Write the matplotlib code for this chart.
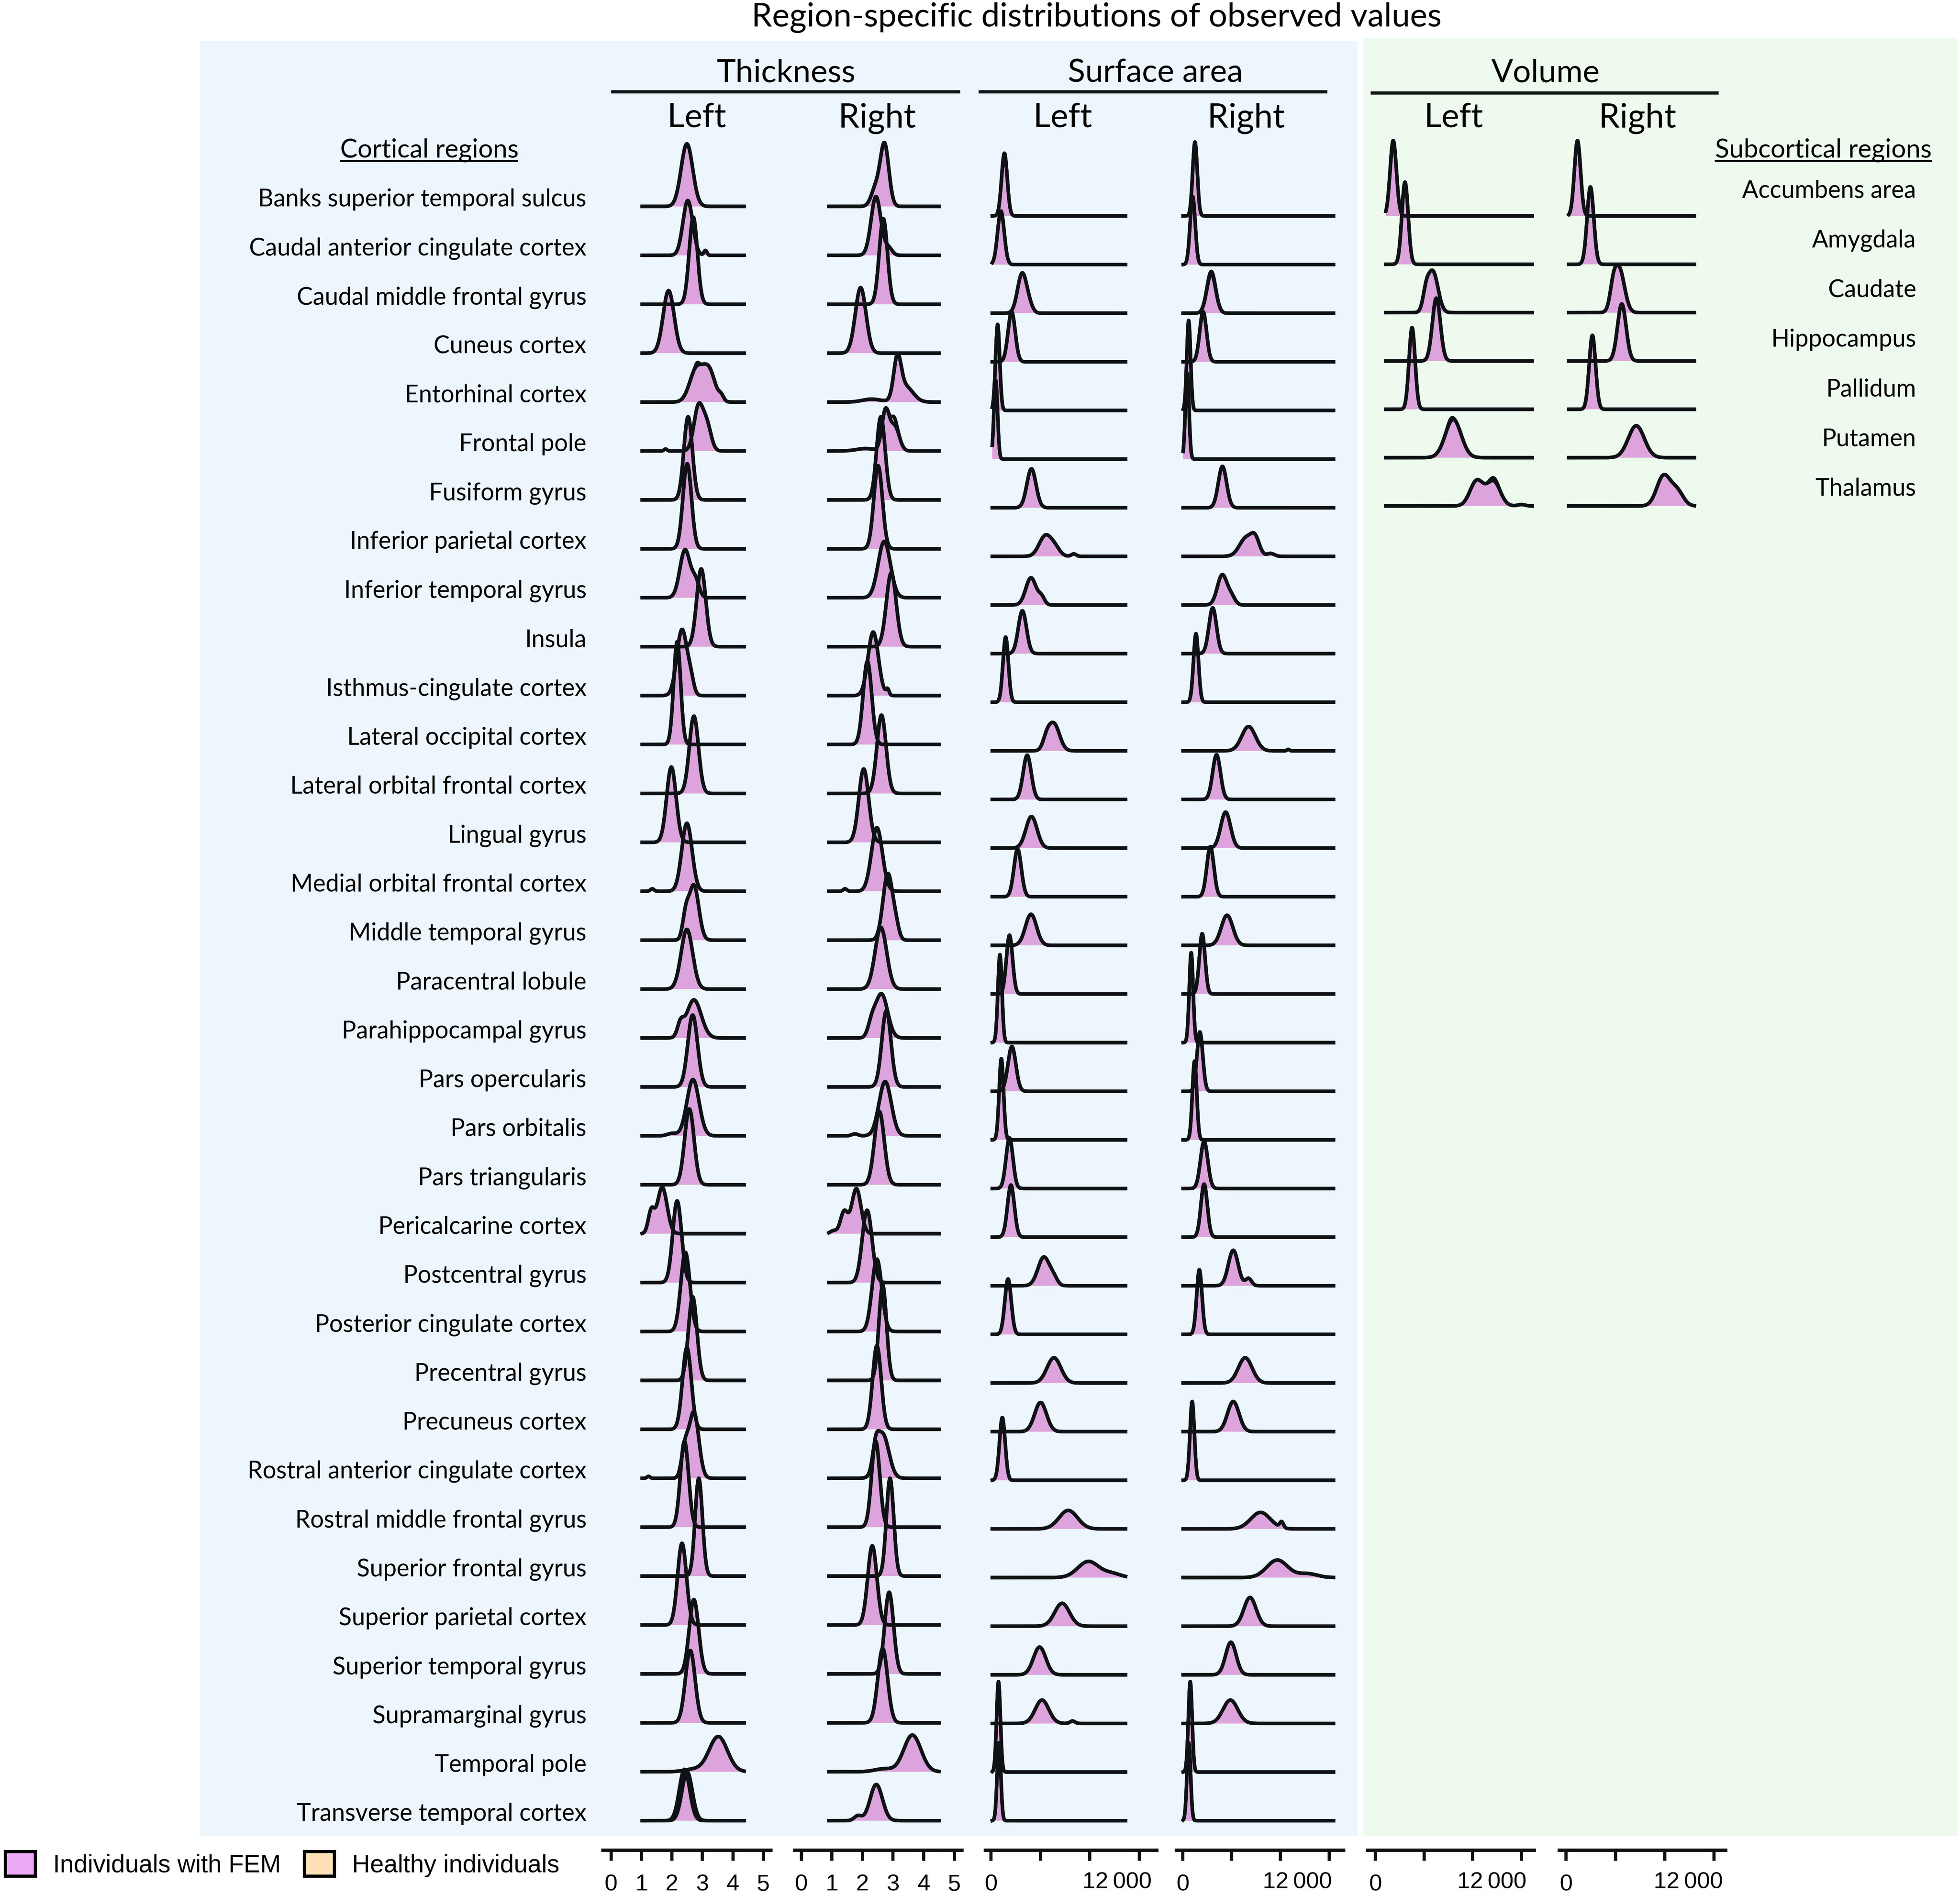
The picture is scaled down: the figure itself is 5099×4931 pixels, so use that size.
import numpy as np
import matplotlib
matplotlib.use("Agg")
import matplotlib.pyplot as plt
from matplotlib.patches import Rectangle, Patch
from matplotlib.lines import Line2D
from matplotlib.transforms import ScaledTranslation

# ---------------------------------------------------------------- data
cortical_regions = [
    "Banks superior temporal sulcus", "Caudal anterior cingulate cortex",
    "Caudal middle frontal gyrus", "Cuneus cortex", "Entorhinal cortex",
    "Frontal pole", "Fusiform gyrus", "Inferior parietal cortex",
    "Inferior temporal gyrus", "Insula", "Isthmus-cingulate cortex",
    "Lateral occipital cortex", "Lateral orbital frontal cortex",
    "Lingual gyrus", "Medial orbital frontal cortex", "Middle temporal gyrus",
    "Paracentral lobule", "Parahippocampal gyrus", "Pars opercularis",
    "Pars orbitalis", "Pars triangularis", "Pericalcarine cortex",
    "Postcentral gyrus", "Posterior cingulate cortex", "Precentral gyrus",
    "Precuneus cortex", "Rostral anterior cingulate cortex",
    "Rostral middle frontal gyrus", "Superior frontal gyrus",
    "Superior parietal cortex", "Superior temporal gyrus",
    "Supramarginal gyrus", "Temporal pole", "Transverse temporal cortex"]
subcortical_regions = ["Accumbens area", "Amygdala", "Caudate", "Hippocampus",
                       "Pallidum", "Putamen", "Thalamus"]

# main density component per region: peak location, peak height (in rows), spread
thick_left_mu = [2.49, 2.52, 2.70, 1.89, 2.80, 2.87, 2.53, 2.50, 2.43, 2.96, 2.33, 2.17,
                 2.72, 1.98, 2.49, 2.72, 2.49, 2.72, 2.68, 2.69, 2.57, 1.68, 2.17, 2.44,
                 2.68, 2.49, 2.72, 2.41, 2.88, 2.33, 2.72, 2.60, 3.52, 2.41]
thick_left_h = [1.28, 1.12, 1.78, 1.28, 0.66, 0.90, 1.70, 1.74, 0.98, 1.59, 1.35, 2.10,
                1.58, 1.54, 1.39, 1.12, 1.22, 0.78, 1.47, 1.15, 1.55, 0.95, 1.67, 1.62,
                1.71, 1.67, 1.35, 1.76, 2.00, 1.67, 1.52, 1.48, 0.72, 1.05]
thick_left_sd = [0.19, 0.16, 0.135, 0.18, 0.22, 0.15, 0.14, 0.14, 0.17, 0.15, 0.17, 0.115,
                 0.15, 0.155, 0.17, 0.16, 0.19, 0.24, 0.16, 0.20, 0.155, 0.16, 0.145, 0.15,
                 0.14, 0.145, 0.16, 0.135, 0.12, 0.145, 0.155, 0.16, 0.30, 0.17]
thick_left_extra = [(1, 3.10, 0.10, 0.05), (4, 3.22, 0.62, 0.20), (4, 3.62, 0.10, 0.08),
                    (5, 3.15, 0.50, 0.14), (5, 1.79, 0.04, 0.05), (8, 2.78, 0.32, 0.12),
                    (10, 2.62, 0.25, 0.10), (14, 1.35, 0.05, 0.06), (15, 2.45, 0.45, 0.10),
                    (17, 2.28, 0.25, 0.10), (19, 2.00, 0.05, 0.15), (21, 1.32, 0.45, 0.10),
                    (26, 2.42, 0.55, 0.11), (26, 1.23, 0.04, 0.05), (32, 2.70, 0.05, 0.30)]

thick_right_mu = [2.72, 2.44, 2.68, 1.94, 3.14, 2.75, 2.60, 2.51, 2.71, 2.94, 2.35, 2.16,
                  2.62, 2.04, 2.47, 2.83, 2.60, 2.62, 2.78, 2.74, 2.55, 1.80, 2.15, 2.47,
                  2.66, 2.47, 2.66, 2.43, 2.90, 2.32, 2.87, 2.66, 3.63, 2.45]
thick_right_h = [1.27, 1.20, 1.75, 1.34, 0.80, 0.80, 1.70, 1.70, 1.15, 1.51, 1.30, 1.70,
                 1.60, 1.50, 1.30, 1.36, 1.26, 0.90, 1.56, 1.11, 1.50, 0.92, 1.48, 1.48,
                 1.95, 1.71, 0.90, 1.76, 2.00, 1.62, 1.67, 1.52, 0.75, 0.74]
thick_right_sd = [0.14, 0.16, 0.135, 0.175, 0.12, 0.12, 0.14, 0.14, 0.20, 0.16, 0.17, 0.14,
                  0.15, 0.16, 0.18, 0.16, 0.19, 0.20, 0.15, 0.20, 0.16, 0.15, 0.16, 0.16,
                  0.125, 0.14, 0.20, 0.135, 0.12, 0.15, 0.145, 0.16, 0.28, 0.20]
thick_right_extra = [(0, 2.42, 0.35, 0.14), (1, 2.85, 0.15, 0.12), (4, 3.40, 0.32, 0.25),
                     (4, 2.30, 0.06, 0.30), (5, 3.05, 0.50, 0.15), (5, 2.10, 0.05, 0.30),
                     (10, 2.82, 0.12, 0.05), (14, 1.43, 0.05, 0.06), (15, 3.10, 0.20, 0.10),
                     (17, 2.30, 0.25, 0.12), (19, 1.75, 0.04, 0.10), (21, 1.40, 0.45, 0.12),
                     (21, 1.05, 0.06, 0.10), (26, 2.43, 0.40, 0.10), (32, 2.70, 0.06, 0.30),
                     (33, 1.85, 0.10, 0.12)]

area_left_mu = [1084, 800, 2518, 1669, 536, 380, 3273, 4400, 3238, 2540, 1186, 5100, 2928,
                3276, 2154, 3238, 1495, 720, 1690, 836, 1495, 1611, 4284, 1379, 5097, 4013,
                914, 6258, 7885, 5756, 3935, 4129, 604, 643]
area_left_h = [1.29, 1.10, 0.81, 1.03, 1.77, 1.62, 0.80, 0.42, 0.56, 0.88, 1.34, 0.55, 0.91,
               0.65, 0.98, 0.64, 1.21, 1.81, 0.92, 1.67, 1.04, 1.07, 0.59, 1.14, 0.52, 0.60,
               1.29, 0.38, 0.33, 0.47, 0.57, 0.48, 1.86, 1.60]
area_left_sd = [230, 270, 370, 290, 170, 150, 370, 500, 420, 330, 220, 450, 330, 450, 300,
                450, 250, 165, 320, 180, 280, 280, 480, 260, 560, 480, 230, 750, 850, 600,
                500, 550, 155, 150]
area_left_extra = [(2, 3100, 0.12, 300), (7, 5200, 0.15, 400), (7, 6700, 0.05, 200),
                   (8, 4100, 0.15, 250), (11, 4500, 0.20, 300), (22, 5100, 0.12, 300),
                   (28, 9800, 0.08, 700), (31, 6600, 0.05, 200)]

area_right_mu = [1000, 810, 2335, 1667, 484, 360, 3250, 5200, 3236, 2453, 1082, 5390, 2766,
                 3510, 2257, 3628, 1591, 690, 1400, 965, 1748, 1748, 4136, 1357, 5116, 4136,
                 769, 6369, 7739, 5508, 3941, 3901, 612, 493]
area_right_h = [1.52, 1.40, 0.81, 1.03, 1.85, 1.77, 0.85, 0.38, 0.62, 0.94, 1.41, 0.50, 0.92,
                0.74, 1.03, 0.62, 1.24, 1.85, 1.22, 1.62, 0.97, 1.09, 0.73, 1.33, 0.52, 0.62,
                1.62, 0.34, 0.36, 0.59, 0.67, 0.48, 1.86, 1.60]
area_right_sd = [190, 210, 360, 280, 155, 150, 340, 550, 400, 310, 205, 560, 320, 400, 290,
                 470, 235, 160, 240, 180, 300, 265, 400, 220, 560, 470, 180, 800, 850, 500,
                 430, 600, 155, 150]
area_right_extra = [(7, 5950, 0.30, 350), (7, 7200, 0.06, 300), (8, 4000, 0.15, 300),
                    (11, 8640, 0.03, 100), (22, 5390, 0.15, 250), (27, 8100, 0.12, 150),
                    (28, 10200, 0.08, 800)]

vol_left_mu = [1469, 2435, 4723, 5013, 3015, 6400, 8332]
vol_left_h = [1.56, 1.70, 0.85, 1.30, 1.69, 0.79, 0.52]
vol_left_sd = [260, 260, 420, 330, 250, 650, 550]
vol_left_extra = [(2, 4150, 0.30, 250), (6, 9717, 0.50, 550), (6, 12000, 0.03, 300)]

vol_right_mu = [921, 1970, 4290, 4513, 2129, 5689, 7900]
vol_right_h = [1.56, 1.60, 0.92, 1.18, 1.53, 0.66, 0.62]
vol_right_sd = [250, 270, 430, 350, 260, 650, 550]
vol_right_extra = [(2, 3800, 0.30, 250), (6, 9000, 0.30, 500)]

# healthy individuals: same as FEM except where the curves visibly differ
healthy_main = {("thick_left", 33): (2.50, 1.00, 0.17), ("area_right", 2): (2335, 0.86, 360)}
healthy_extra = [("thick_right", 5, 3.02, 0.15, 0.08), ("thick_left", 4, 2.83, 0.06, 0.05),
                 ("vol_left", 6, 9717, 0.06, 250), ("vol_left", 5, 6200, 0.05, 200)]

# x range over which densities were evaluated in each column
ranges = {"thick_left": (1.02, 4.37), "thick_right": (0.90, 4.50),
          "area_left": (100, 10900), "area_right": (30, 12350),
          "vol_left": (855, 13000), "vol_right": (214, 10400)}

thick_ticks = [0, 1, 2, 3, 4, 5]
big_ticks = [0, 4000, 8000, 12000]

# ---------------------------------------------------------------- layout helpers
W, H, DPI = 5099, 4931, 300
DW, DH = 1564.0, 1512.0
PT = 72.0 * (W / DW) / DPI          # points per reference px

def fx(x): return x / DW
def fy(y): return 1.0 - y / DH

MAIN = ["Lato", "DejaVu Sans"]
ARIAL = ["Liberation Sans", "DejaVu Sans"]
FEM_FILL = "#dca3dc"
HC_FILL = "#f9d9a6"
LINE = "#0f1214"
LW = 2.2

fig = plt.figure(figsize=(W / DPI, H / DPI), dpi=DPI)
fig.patch.set_facecolor("white")

fig.add_artist(Rectangle((fx(159.6), fy(1464.7)), fx(1083) - fx(159.6), fy(32.9) - fy(1464.7),
                         transform=fig.transFigure, facecolor="#edf6fc", edgecolor="none", zorder=0))
fig.add_artist(Rectangle((fx(1088), fy(1464.7)), fx(1562) - fx(1088), fy(30.5) - fy(1464.7),
                         transform=fig.transFigure, facecolor="#eefaee", edgecolor="none", zorder=0))

columns = [
    # key, mu, h, sd, extra, ax-left px, ax-right px, zero px, px per unit, first baseline, spacing, ticks, label dx
    ("thick_left", thick_left_mu, thick_left_h, thick_left_sd, thick_left_extra,
     481, 615, 487.6, 24.3, 164.7, 39.03, thick_ticks, None),
    ("thick_right", thick_right_mu, thick_right_h, thick_right_sd, thick_right_extra,
     634, 767.5, 639.4, 24.42, 164.7, 39.03, thick_ticks, None),
    ("area_left", area_left_mu, area_left_h, area_left_sd, area_left_extra,
     786, 923, 790.8, 39.4 / 4000, 172.3, 38.8, big_ticks, 10),
    ("area_right", area_right_mu, area_right_h, area_right_sd, area_right_extra,
     938.6, 1072, 943.8, 38.97 / 4000, 172.3, 38.8, big_ticks, 2),
    ("vol_left", vol_left_mu, vol_left_h, vol_left_sd, vol_left_extra,
     1091, 1224, 1097.5, 38.83 / 4000, 172.3, 38.57, big_ticks, 4),
    ("vol_right", vol_right_mu, vol_right_h, vol_right_sd, vol_right_extra,
     1244, 1377, 1249.7, 39.37 / 4000, 172.3, 38.57, big_ticks, 7),
]

AX_BOTTOM, AX_TOP = 1476.0, 40.0

def density(x, comps):
    y = np.zeros_like(x)
    for m, hh, s in comps:
        y += hh * np.exp(-0.5 * ((x - m) / s) ** 2)
    return y

for key, mu, hh, sd, extra, x0, x1, zero, ppu, b0, sp, ticks, ldx in columns:
    ax = fig.add_axes([fx(x0), fy(AX_BOTTOM), fx(x1) - fx(x0), fy(AX_TOP) - fy(AX_BOTTOM)])
    ax.set_facecolor("none")
    ax.set_xlim((x0 - zero) / ppu, (x1 - zero) / ppu)
    ax.set_ylim(-(AX_BOTTOM - b0) / sp, (b0 - AX_TOP) / sp)
    for s in ("top", "left", "right"):
        ax.spines[s].set_visible(False)
    ax.spines["bottom"].set_linewidth(2.1)
    ax.spines["bottom"].set_color(LINE)
    ax.tick_params(axis="y", left=False, labelleft=False)
    ax.tick_params(axis="x", direction="out", length=6.6, width=2.0, color=LINE,
                   pad=8.4, labelsize=14.5)
    ax.set_xticks(ticks)
    if ldx is None:
        ax.set_xticklabels([str(t) for t in ticks])
    else:
        ax.set_xticklabels(["0", "", "", ""])
        tr = ax.get_xaxis_transform() + ScaledTranslation(ldx * PT / 72, -26 * PT / 72,
                                                           fig.dpi_scale_trans)
        ax.text(ticks[-1], 0, "12\u2009000", transform=tr, ha="right", va="center",
                fontsize=14.5, family=ARIAL, color="black")
    for lab in ax.get_xticklabels():
        lab.set_family(ARIAL)

    lo, hi = ranges[key]
    x = np.linspace(lo, hi, 900)
    n = len(mu)
    for i in range(n):
        fem = [(mu[i], hh[i], sd[i])] + [(m, a, s) for (r, m, a, s) in extra if r == i]
        hc_main = healthy_main.get((key, i), (mu[i], hh[i], sd[i]))
        hc = [hc_main] + [(m, a, s) for (r, m, a, s) in extra if r == i] + \
             [(m, a, s) for (k, r, m, a, s) in healthy_extra if k == key and r == i]
        base = -i
        y_hc = base + density(x, hc)
        y_fem = base + density(x, fem)
        ax.fill_between(x, base, y_hc, facecolor=HC_FILL, edgecolor="none", zorder=2 + 2 * i)
        ax.fill_between(x, base, y_fem, facecolor=FEM_FILL, edgecolor="none", zorder=3 + 2 * i)
        ax.plot(x, y_hc, color=LINE, lw=LW, zorder=200 + 2 * i, solid_joinstyle="round")
        ax.plot(x, y_fem, color=LINE, lw=LW, zorder=201 + 2 * i, solid_joinstyle="round")

# ---------------------------------------------------------------- texts
fig.text(fx(875), fy(21), "Region-specific distributions of observed values", ha="center",
         va="baseline", fontsize=20.6, family=MAIN)
for label, xc in (("Thickness", 627.5), ("Surface area", 922), ("Volume", 1233.5)):
    fig.text(fx(xc), fy(65.4), label, ha="center", va="baseline", fontsize=20.0, family=MAIN)
for (xa, xb, yl) in ((489, 765, 73.4), (782, 1058, 73.4), (1095, 1370, 74.3)):
    fig.add_artist(Line2D([fx(xa), fx(xb)], [fy(yl), fy(yl)], transform=fig.transFigure,
                          color=LINE, lw=2.0))
for label, xc in (("Left", 556), ("Right", 700), ("Left", 848), ("Right", 994.5),
                  ("Left", 1160), ("Right", 1306.5)):
    fig.text(fx(xc), fy(101.7), label, ha="center", va="baseline", fontsize=21, family=MAIN)

fig.text(fx(342.5), fy(125.5), "Cortical regions", ha="center", va="baseline",
         fontsize=16.2, family=MAIN)
fig.add_artist(Line2D([fx(272), fx(413)], [fy(128.5), fy(128.5)], transform=fig.transFigure,
                      color="black", lw=1.0))
fig.text(fx(1455), fy(125.5), "Subcortical regions", ha="center", va="baseline",
         fontsize=16.2, family=MAIN)
fig.add_artist(Line2D([fx(1369), fx(1541)], [fy(128.5), fy(128.5)], transform=fig.transFigure,
                      color="black", lw=1.0))

for i, name in enumerate(cortical_regions):
    fig.text(fx(468), fy(164.8 + 39.03 * i), name, ha="right", va="baseline",
             fontsize=15.0, family=MAIN)
for i, name in enumerate(subcortical_regions):
    fig.text(fx(1529), fy(157.8 + 39.6 * i), name, ha="right", va="baseline",
             fontsize=15.0, family=MAIN)

handles = [Patch(facecolor="#eeaaf6", edgecolor="black", linewidth=2.0),
           Patch(facecolor="#fde0b6", edgecolor="black", linewidth=2.0)]
fig.legend(handles, ["Individuals with FEM", "Healthy individuals"], loc="center left",
           bbox_to_anchor=(fx(4.4), fy(1487.5)), ncol=2, frameon=False, borderpad=0,
           borderaxespad=0, handlelength=1.2, handleheight=1.15, handletextpad=0.72,
           columnspacing=0.95, prop={"family": ARIAL, "size": 15.5})

fig.savefig("out.png", dpi=DPI, facecolor="white")
